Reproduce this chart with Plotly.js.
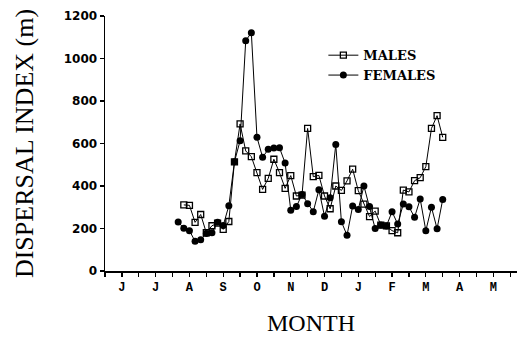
<!DOCTYPE html>
<html>
<head>
<meta charset="utf-8">
<script src="https://cdn.plot.ly/plotly-3.0.1.min.js"></script>
<style>html,body{margin:0;padding:0;background:#fff;}#chart{width:522px;height:339px;}</style>
</head>
<body>
<div id="chart"></div>
<script>
// Sampling dates in month units (0 = June); one sample every ~5 days
var startMonth = 1.667;
var stepMonth = 1 / 6;
var sampleIndex = [];
for (var i = 0; i < 48; i++) sampleIndex.push(i);
var sampleMonths = sampleIndex.map(function (k) { return startMonth + k * stepMonth; });

var femalesIndex = [231, 201, 190, 140, 147, 177, 180, 230, 214, 307,
  514, 613, 1084, 1121, 629, 535, 573, 579, 580, 508,
  286, 303, 360, 317, 279, 382, 258, 345, 595, 232,
  168, 306, 290, 400, 304, 200, 216, 212, 279, 221,
  315, 302, 253, 339, 190, 300, 199, 337];

var malesIndex = [null, 311, 309, 229, 266, 180, 213, 225, 196, 233,
  514, 692, 565, 538, 463, 384, 436, 526, 463, 389,
  449, 353, 357, 671, 444, 450, 353, 293, 400, 379,
  424, 479, 378, 315, 256, 282, 216, 212, 190, 180,
  381, 372, 425, 439, 491, 671, 731, 629];

var monthTickVals = [0, 1, 2, 3, 4, 5, 6, 7, 8, 9, 10, 11];
var monthTickText = ['J', 'J', 'A', 'S', 'O', 'N', 'D', 'J', 'F', 'M', 'A', 'M'];
var halfMonthTicks = [-0.5, 0.5, 1.5, 2.5, 3.5, 4.5, 5.5, 6.5, 7.5, 8.5, 9.5, 10.5, 11.5];
var yTickVals = [0, 200, 400, 600, 800, 1000, 1200];

var traces = [
  {
    x: sampleMonths, y: malesIndex, name: 'MALES', type: 'scatter', mode: 'lines+markers',
    connectgaps: false,
    line: { color: '#000', width: 1 },
    marker: { symbol: 'square-open', size: 6, color: '#000', line: { width: 1.3, color: '#000' } }
  },
  {
    x: sampleMonths, y: femalesIndex, name: 'FEMALES', type: 'scatter', mode: 'lines+markers',
    line: { color: '#000', width: 1 },
    marker: { symbol: 'circle', size: 7, color: '#000' }
  }
];

var layout = {
  width: 522, height: 339,
  margin: { l: 105, r: 5, t: 16, b: 68, pad: 0 },
  paper_bgcolor: '#fff', plot_bgcolor: '#fff',
  showlegend: true,
  legend: {
    x: 0.53, y: 0.905, xanchor: 'left', yanchor: 'top',
    bgcolor: 'rgba(0,0,0,0)', borderwidth: 0,
    font: { family: 'DejaVu Serif, Liberation Serif, serif', size: 13, color: '#000', weight: 'bold' },
    tracegroupgap: 0, itemwidth: 30
  },
  xaxis: {
    range: [-0.5, 11.7],
    showgrid: false, zeroline: false,
    showline: true, linecolor: '#000', linewidth: 1.5,
    tickmode: 'array', tickvals: monthTickVals, ticktext: monthTickText,
    ticks: 'outside', ticklen: 4, tickwidth: 1.3, tickcolor: '#000',
    minor: { tickmode: 'array', tickvals: halfMonthTicks, ticks: 'outside', ticklen: 4, tickwidth: 1.3, tickcolor: '#000', showgrid: false },
    tickfont: { family: 'Liberation Mono, DejaVu Sans Mono, monospace', size: 12, color: '#000', weight: 'bold' },
    title: { text: 'MONTH', font: { family: 'Liberation Serif, DejaVu Serif, serif', size: 24, color: '#000' }, standoff: 20 }
  },
  yaxis: {
    range: [0, 1200],
    showgrid: false, zeroline: false,
    showline: true, linecolor: '#000', linewidth: 1.5,
    tickmode: 'array', tickvals: yTickVals,
    ticks: 'outside', ticklen: 4, tickwidth: 1.3, tickcolor: '#000',
    tickfont: { family: 'DejaVu Sans, Liberation Sans, sans-serif', size: 12, color: '#000', weight: 'bold' },
    title: { text: 'DISPERSAL INDEX (m)', font: { family: 'Liberation Serif, DejaVu Serif, serif', size: 26, color: '#000' }, standoff: 22 }
  }
};

Plotly.newPlot('chart', traces, layout, { displayModeBar: false, staticPlot: true });
</script>
</body>
</html>
